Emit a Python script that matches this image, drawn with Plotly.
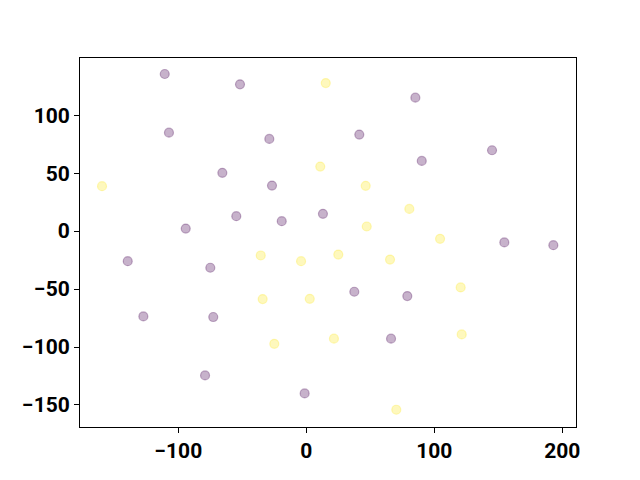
import plotly.graph_objects as go

# Class 0 (purple) points
purple_x = [-110.6, -51.8, -107.3, -28.9, -65.6, -26.8, -54.7, -19.2, 13.0, -94.2,
            85.2, 41.4, 145.1, 90.2, 154.7, 193.0, -139.5, -75.0, -127.3, -72.7,
            -79.1, -1.3, 37.5, 78.9, 66.2]
purple_y = [135.6, 126.7, 85.0, 79.6, 50.3, 39.3, 12.9, 8.6, 14.9, 2.2,
            115.2, 83.3, 69.8, 60.6, -9.7, -12.1, -25.9, -31.6, -73.6, -74.1,
            -124.5, -140.0, -52.3, -56.0, -92.8]

# Class 1 (yellow) points
yellow_x = [15.2, 10.9, -159.6, 46.4, 80.5, 47.2, 104.5, -35.6, -4.1, 25.0,
            65.4, 120.6, -34.1, 2.7, 121.4, -25.0, 21.6, 70.3]
yellow_y = [127.8, 55.7, 38.8, 39.1, 19.2, 4.0, -6.6, -21.0, -25.9, -20.2,
            -24.5, -48.6, -58.6, -58.4, -89.1, -97.2, -92.8, -154.1]

alpha = 0.3
purple = f"rgba(68,1,84,{alpha})"
yellow = f"rgba(253,231,37,{alpha})"

fig = go.Figure()
fig.add_trace(go.Scatter(x=purple_x, y=purple_y, mode="markers",
                         marker=dict(size=9, color=purple, line=dict(color=purple, width=1.2)),
                         showlegend=False, hoverinfo="skip"))
fig.add_trace(go.Scatter(x=yellow_x, y=yellow_y, mode="markers",
                         marker=dict(size=9, color=yellow, line=dict(color=yellow, width=1.2)),
                         showlegend=False, hoverinfo="skip"))

tickfont = dict(family="Roboto", size=21, weight="bold", color="black")
axis_common = dict(showgrid=False, zeroline=False, showline=True, linecolor="black",
                   linewidth=1, mirror=True, ticks="outside", ticklen=5, tickwidth=1,
                   tickcolor="black", tickfont=tickfont, tickmode="linear", tick0=0,
                   automargin=False)

fig.update_xaxes(range=[-176.8, 210.7], dtick=100, **axis_common)
fig.update_yaxes(range=[-169.0, 149.4], dtick=50, **axis_common)

# page body has an 8px margin, so the margins are offset to place the plot area
fig.update_layout(width=640, height=480, plot_bgcolor="white", paper_bgcolor="white",
                  margin=dict(l=72, r=72, t=50, b=61))

fig.write_html("out.html")
